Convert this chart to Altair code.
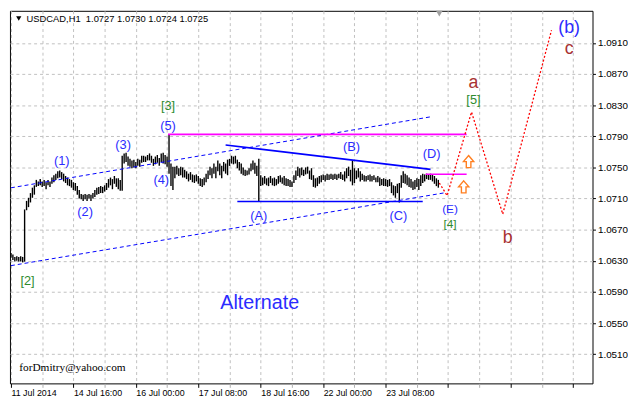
import altair as alt
import pandas as pd

# ---------------- data ----------------
highs = [
    1.0640, 1.0638, 1.0635, 1.0636, 1.0635, 1.0636, 1.0635, 1.0696, 1.0707, 1.0711,
    1.0717, 1.0724, 1.0727, 1.0734, 1.0732, 1.0735, 1.0732, 1.0734, 1.0731, 1.0734,
    1.0732, 1.0737, 1.0740, 1.0742, 1.0745, 1.0746, 1.0744, 1.0742, 1.0739, 1.0737,
    1.0735, 1.0734, 1.0731, 1.0730, 1.0726, 1.0721, 1.0716, 1.0715, 1.0716, 1.0715,
    1.0716, 1.0715, 1.0717, 1.0721, 1.0724, 1.0725, 1.0726, 1.0725, 1.0727, 1.0730,
    1.0735, 1.0737, 1.0735, 1.0739, 1.0736, 1.0736, 1.0734, 1.0765, 1.0768, 1.0769,
    1.0764, 1.0761, 1.0759, 1.0760, 1.0757, 1.0761, 1.0760, 1.0765, 1.0765, 1.0764,
    1.0766, 1.0768, 1.0765, 1.0761, 1.0764, 1.0766, 1.0762, 1.0768, 1.0769, 1.0766,
    1.0764, 1.0793, 1.0755, 1.0751, 1.0751, 1.0752, 1.0749, 1.0751, 1.0750,
    1.0747, 1.0745, 1.0742, 1.0744, 1.0741, 1.0740, 1.0741, 1.0739, 1.0736, 1.0735,
    1.0737, 1.0742, 1.0746, 1.0751, 1.0749, 1.0755, 1.0751, 1.0759, 1.0755, 1.0752,
    1.0757, 1.0755, 1.0760, 1.0761, 1.0765, 1.0764, 1.0765, 1.0760, 1.0757, 1.0755,
    1.0750, 1.0747, 1.0746, 1.0749, 1.0755, 1.0759, 1.0756, 1.0752, 1.0761, 1.0740,
    1.0737, 1.0739, 1.0736, 1.0737, 1.0739, 1.0736, 1.0737, 1.0735, 1.0739, 1.0740,
    1.0737, 1.0739, 1.0736, 1.0735, 1.0734, 1.0732, 1.0740, 1.0746, 1.0751, 1.0749,
    1.0750, 1.0747, 1.0750, 1.0751, 1.0746, 1.0749, 1.0740, 1.0736, 1.0737,
    1.0739, 1.0740, 1.0741, 1.0740, 1.0742, 1.0741, 1.0742, 1.0741, 1.0742, 1.0741,
    1.0742, 1.0744, 1.0741, 1.0745, 1.0749, 1.0751, 1.0747, 1.0759, 1.0749, 1.0746,
    1.0749, 1.0745, 1.0742, 1.0740, 1.0739, 1.0740, 1.0741, 1.0739, 1.0740, 1.0737,
    1.0739, 1.0737, 1.0735, 1.0736, 1.0735, 1.0734, 1.0735, 1.0731, 1.0727, 1.0726,
    1.0729, 1.0730, 1.0740, 1.0745, 1.0742, 1.0740, 1.0737, 1.0735, 1.0732, 1.0734,
    1.0736, 1.0735, 1.0740, 1.0742, 1.0741, 1.0742, 1.0741, 1.0742, 1.0741, 1.0739,
    1.0736, 1.0734,
]
lows = [
    1.0634, 1.0631, 1.0629, 1.0630, 1.0629, 1.0629, 1.0628, 1.0629, 1.0695, 1.0699,
    1.0705, 1.0711, 1.0715, 1.0725, 1.0726, 1.0727, 1.0725, 1.0726, 1.0722, 1.0727,
    1.0725, 1.0729, 1.0731, 1.0734, 1.0736, 1.0737, 1.0735, 1.0732, 1.0730, 1.0727,
    1.0726, 1.0724, 1.0721, 1.0720, 1.0715, 1.0710, 1.0709, 1.0707, 1.0709, 1.0707,
    1.0710, 1.0707, 1.0710, 1.0712, 1.0715, 1.0716, 1.0717, 1.0717, 1.0719, 1.0721,
    1.0724, 1.0727, 1.0722, 1.0729, 1.0725, 1.0722, 1.0720, 1.0720, 1.0755, 1.0757,
    1.0752, 1.0751, 1.0749, 1.0750, 1.0749, 1.0752, 1.0751, 1.0756, 1.0757, 1.0757,
    1.0759, 1.0759, 1.0756, 1.0752, 1.0754, 1.0756, 1.0752, 1.0757, 1.0755, 1.0754,
    1.0751, 1.0742, 1.0726, 1.0721, 1.0736, 1.0741, 1.0739, 1.0740, 1.0737,
    1.0737, 1.0735, 1.0732, 1.0734, 1.0731, 1.0730, 1.0732, 1.0729, 1.0726, 1.0725,
    1.0727, 1.0731, 1.0735, 1.0740, 1.0736, 1.0742, 1.0736, 1.0745, 1.0740, 1.0736,
    1.0745, 1.0742, 1.0740, 1.0752, 1.0755, 1.0754, 1.0755, 1.0749, 1.0746, 1.0742,
    1.0740, 1.0739, 1.0740, 1.0741, 1.0745, 1.0747, 1.0742, 1.0739, 1.0707, 1.0726,
    1.0727, 1.0729, 1.0727, 1.0726, 1.0730, 1.0727, 1.0726, 1.0727, 1.0729, 1.0731,
    1.0729, 1.0727, 1.0726, 1.0726, 1.0725, 1.0725, 1.0730, 1.0734, 1.0739, 1.0737,
    1.0740, 1.0739, 1.0741, 1.0742, 1.0735, 1.0734, 1.0725, 1.0724, 1.0726,
    1.0729, 1.0731, 1.0734, 1.0732, 1.0734, 1.0734, 1.0735, 1.0734, 1.0735, 1.0734,
    1.0736, 1.0735, 1.0734, 1.0732, 1.0736, 1.0739, 1.0732, 1.0727, 1.0730, 1.0735,
    1.0737, 1.0732, 1.0734, 1.0732, 1.0732, 1.0734, 1.0732, 1.0732, 1.0734, 1.0731,
    1.0731, 1.0726, 1.0727, 1.0726, 1.0726, 1.0725, 1.0726, 1.0717, 1.0714, 1.0711,
    1.0717, 1.0705, 1.0724, 1.0730, 1.0729, 1.0727, 1.0725, 1.0724, 1.0721, 1.0722,
    1.0725, 1.0721, 1.0726, 1.0730, 1.0732, 1.0735, 1.0734, 1.0734, 1.0732, 1.0729,
    1.0726, 1.0724,
]

date_ticks = [0, 32, 64, 96, 128, 160, 192]
date_labels = ["11 Jul 2014", "14 Jul 16:00", "16 Jul 00:00", "17 Jul 08:00",
               "18 Jul 16:00", "22 Jul 00:00", "23 Jul 08:00"]
grid_ticks = list(range(0, 289, 16))
price_ticks = [1.0510, 1.0550, 1.0590, 1.0630, 1.0670, 1.0710,
               1.0750, 1.0790, 1.0830, 1.0870, 1.0910]

# channel (dashed) lines
chan_i = [0, 215, 0, 222.5]
chan_p = [1.07238, 1.0815, 1.06238, 1.07175]
chan_g = ["up", "up", "lo", "lo"]
# triangle solid lines
tri_i = [110, 215, 116, 211]
tri_p = [1.07788, 1.07475, 1.07063, 1.07063]
tri_g = ["BD", "BD", "AC", "AC"]
# magenta horizontal levels
mag_i = [80.5, 233.5, 212.5, 233.5]
mag_p = [1.07925, 1.07925, 1.07413, 1.07413]
mag_g = ["w5", "w5", "D", "D"]
# forecast path
fc_i = [219.5, 223.5, 236, 252, 277]
fc_p = [1.0730, 1.07138, 1.08213, 1.0690, 1.09263]
# arrows
arr_i = [234.5, 232]
arr_p = [1.07575, 1.0725]

lab_text = ["(1)", "(2)", "(3)", "(4)", "(5)", "(A)", "(B)", "(C)", "(D)", "(E)",
            "[3]", "[2]", "[4]", "[5]", "a", "b", "c", "(b)", "Alternate"]
lab_i = [26, 38, 57.5, 77, 80.5, 127, 174.5, 198.5, 215.5, 225,
         80.5, 8.5, 225, 237, 237, 254.5, 286, 286, 127.5]
lab_p = [1.07588, 1.06925, 1.07788, 1.07338, 1.08038, 1.06875, 1.07763, 1.06875, 1.07675, 1.06962,
         1.08288, 1.06038, 1.06770, 1.08363, 1.08588, 1.06588, 1.09025, 1.09288, 1.05763]
BLUE, GREEN, BROWN = "#2b2bff", "#2e8b2e", "#a83232"
lab_color = [BLUE] * 10 + [GREEN] * 4 + [BROWN] * 3 + [BLUE, BLUE]
lab_size = [13] * 9 + [12] + [13, 13, 12, 13] + [18, 18, 18, 18, 20]

title_text = "USDCAD,H1\u00a0 1.0727 1.0730 1.0724 1.0725"
email_text = "forDmitry@yahoo.com"

# ---------------- chart ----------------
bars = pd.DataFrame({"i": list(range(len(highs))), "p": lows, "p2": highs})

label_expr = "".join(f"datum.value == {t} ? '{l}' : " for t, l in zip(date_ticks, date_labels)) + "''"

xscale = alt.Scale(domain=[-0.5, 298], nice=False, zero=False)
yscale = alt.Scale(domain=[1.04725, 1.095125], nice=False, zero=False)
xaxis = alt.Axis(values=grid_ticks, labelExpr=label_expr, grid=True, gridDash=[3, 3],
                 gridColor="#c0c0c0", domain=False, tickSize=4,
                 tickColor={"condition": {"test": "datum.value % 32 == 0", "value": "black"},
                            "value": "#b0b0b0"},
                 labelAlign="left", labelBaseline="top", labelFont="Liberation Sans",
                 labelFontSize=9, labelColor="black", labelPadding=1, labelOverlap=False,
                 labelFlush=False, title=None)
yaxis = alt.Axis(orient="right", values=price_ticks, format=".4f", grid=True, gridDash=[3, 3],
                 gridColor="#c0c0c0", domain=False, tickSize=3, tickColor="black",
                 labelFont="Liberation Sans", labelFontSize=10, labelColor="black",
                 labelPadding=2, labelBaseline="middle", labelOverlap=False, title=None)

def X():
    return alt.X("i:Q", scale=xscale, axis=xaxis)

def Y():
    return alt.Y("p:Q", scale=yscale, axis=yaxis)

bar_layer = alt.Chart(bars).mark_rule(color="black", strokeWidth=1.4).encode(
    x=X(), y=Y(), y2="p2:Q")

chan = pd.DataFrame({"i": chan_i, "p": chan_p, "g": chan_g})
chan_layer = alt.Chart(chan).mark_line(color="#0000ff", strokeDash=[4, 3], strokeWidth=1).encode(
    x=X(), y=Y(), detail="g:N")

tri = pd.DataFrame({"i": tri_i, "p": tri_p, "g": tri_g})
tri_layer = alt.Chart(tri).mark_line(color="#0000ff", strokeWidth=1.6).encode(
    x=X(), y=Y(), detail="g:N")

mag = pd.DataFrame({"i": mag_i, "p": mag_p, "g": mag_g})
mag_layer = alt.Chart(mag).mark_line(color="#ff00ff", strokeWidth=1.6).encode(
    x=X(), y=Y(), detail="g:N")

fc = pd.DataFrame({"i": fc_i, "p": fc_p})
fc_layer = alt.Chart(fc).mark_line(color="#ff0000", strokeDash=[2, 2], strokeWidth=1.3).encode(
    x=X(), y=Y())

arrow_path = "M0,-1L0.85,0L0.38,0L0.38,1L-0.38,1L-0.38,0L-0.85,0Z"
arr = pd.DataFrame({"i": arr_i, "p": arr_p})
arr_layer = alt.Chart(arr).mark_point(shape=arrow_path, filled=True, fill="white",
                                      stroke="#ff7f20", strokeWidth=1.4, size=150,
                                      opacity=1).encode(x=X(), y=Y())

labs = pd.DataFrame({"i": lab_i, "p": lab_p, "t": lab_text, "c": lab_color, "s": lab_size})
lab_layer = alt.Chart(labs).mark_text(font="Liberation Sans", align="center",
                                      baseline="middle").encode(
    x=X(), y=Y(), text="t:N",
    color=alt.Color("c:N", scale=None), size=alt.Size("s:Q", scale=None))

title_df = pd.DataFrame({"i": [8], "p": [1.094125], "t": [title_text]})
title_layer = alt.Chart(title_df).mark_text(font="Liberation Sans", fontSize=9.5, align="left",
                                            baseline="middle", color="black").encode(
    x=X(), y=Y(), text="t:N")

tri_mark_df = pd.DataFrame({"i": [4], "p": [1.094125]})
tri_mark = alt.Chart(tri_mark_df).mark_point(shape="triangle-down", filled=True, color="black",
                                             size=28, opacity=1).encode(x=X(), y=Y())

shift_df = pd.DataFrame({"i": [219.5], "p": [1.09475]})
shift_mark = alt.Chart(shift_df).mark_point(shape="triangle-down", filled=True, color="#a0a0a0",
                                            size=45, opacity=1).encode(x=X(), y=Y())

email_df = pd.DataFrame({"i": [31.5], "p": [1.04925], "t": [email_text]})
email_layer = alt.Chart(email_df).mark_text(font="Liberation Serif", fontSize=11.5, align="center",
                                            baseline="middle", color="black").encode(
    x=X(), y=Y(), text="t:N")

chart = alt.layer(
    bar_layer, chan_layer, tri_layer, mag_layer, fc_layer, arr_layer,
    lab_layer, title_layer, tri_mark, shift_mark, email_layer
).properties(width=591, height=378, padding=0, background="white").configure_view(
    stroke="black", strokeWidth=1
)

chart.save("out.html", embed_options={"renderer": "svg", "actions": False})
